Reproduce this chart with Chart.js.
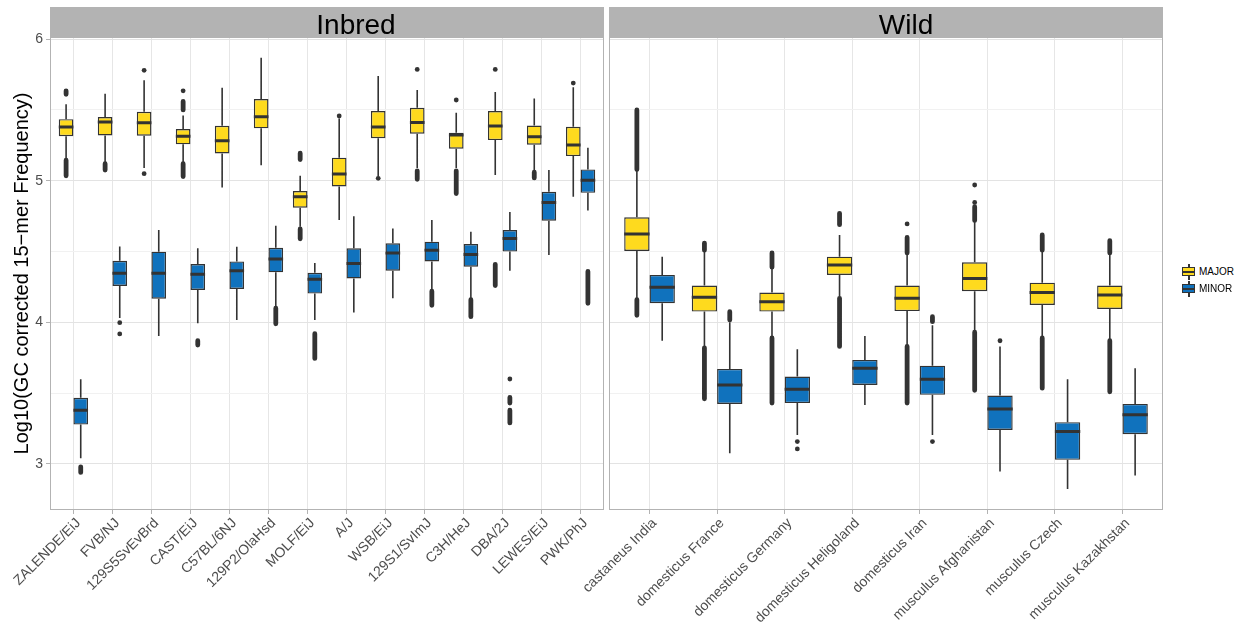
<!DOCTYPE html>
<html>
<head>
<meta charset="utf-8">
<script src="https://cdn.jsdelivr.net/npm/chart.js@4.4.1/dist/chart.umd.min.js"></script>
<style>
  body { margin: 0; background: #fff; width: 1245px; height: 643px; position: relative; overflow: hidden;
         font-family: "Liberation Sans", Arial, sans-serif; }
  .panel { position: absolute; top: 0; height: 643px; }
  .strip { position: absolute; top: 7px; height: 30px; background: #b3b3b3; }
  .strip span { position: absolute; top: 2px; font-size: 28px; line-height: 32px; color: #000;
                transform: translateX(-50%); white-space: nowrap; }
  #legend { position: absolute; left: 1182px; top: 264px; font-size: 10px; color: #000; }
  .item { position: relative; height: 17px; padding-left: 17px; line-height: 16px; }
  .key { position: absolute; left: 0; top: 0; width: 14px; height: 16px; }
  .key .wh { position: absolute; left: 6px; top: 0; width: 1.6px; height: 16px; background: #333; }
  .key .bx { position: absolute; left: 0; top: 3px; width: 11px; height: 7px; border: 1.5px solid #333; }
  .key .md { position: absolute; left: 1px; top: 7px; width: 12px; height: 2px; background: #333; }
</style>
</head>
<body>
<div class="panel" style="left:0;width:620px"><canvas id="inbred"></canvas></div>
<div class="panel" style="left:480px;width:700px"><canvas id="wild"></canvas></div>
<div class="strip" style="left:50px;width:554px"><span style="left:306px">Inbred</span></div>
<div class="strip" style="left:609px;width:554px"><span style="left:297px">Wild</span></div>
<div id="legend">
  <div class="item"><span class="key"><span class="wh"></span><span class="bx" style="background:#FEDA1E"></span><span class="md"></span></span>MAJOR</div>
  <div class="item"><span class="key"><span class="wh"></span><span class="bx" style="background:#1072BD"></span><span class="md"></span></span>MINOR</div>
</div>
<script>
"use strict";
// box stats per category: [lower whisker, q1, median, q3, upper whisker]
const inbredNames = ["ZALENDE/EiJ", "FVB/NJ", "129S5SvEvBrd", "CAST/EiJ", "C57BL/6NJ", "129P2/OlaHsd", "MOLF/EiJ",
  "A/J", "WSB/EiJ", "129S1/SvImJ", "C3H/HeJ", "DBA/2J", "LEWES/EiJ", "PWK/PhJ"];
const inbredMajor = [
  [5.16, 5.315, 5.38, 5.435, 5.54], [5.13, 5.32, 5.415, 5.45, 5.615], [5.09, 5.318, 5.41, 5.487, 5.71],
  [5.125, 5.257, 5.315, 5.365, 5.46], [4.953, 5.193, 5.282, 5.388, 5.656], [5.11, 5.37, 5.452, 5.577, 5.868],
  [4.675, 4.81, 4.887, 4.927, 5.035], [4.723, 4.96, 5.047, 5.163, 5.44], [5.03, 5.3, 5.38, 5.492, 5.739],
  [5.09, 5.332, 5.412, 5.515, 5.64], [5.09, 5.226, 5.323, 5.339, 5.48], [5.04, 5.287, 5.386, 5.492, 5.626],
  [5.07, 5.254, 5.31, 5.39, 5.58], [4.887, 5.174, 5.252, 5.381, 5.66]
];
const inbredMinor = [
  [3.04, 3.278, 3.38, 3.467, 3.598], [4.03, 4.257, 4.346, 4.435, 4.535], [3.904, 4.167, 4.346, 4.499, 4.652],
  [3.993, 4.229, 4.34, 4.412, 4.523], [4.017, 4.236, 4.365, 4.43, 4.534], [4.11, 4.353, 4.447, 4.527, 4.683],
  [4.017, 4.203, 4.304, 4.35, 4.42], [4.07, 4.31, 4.416, 4.523, 4.75], [4.17, 4.365, 4.49, 4.558, 4.662],
  [4.228, 4.43, 4.51, 4.57, 4.723], [4.17, 4.393, 4.48, 4.553, 4.64], [4.365, 4.5, 4.593, 4.652, 4.78],
  [4.475, 4.718, 4.847, 4.922, 5.075], [4.79, 4.915, 5.004, 5.08, 5.233]
];
// outliers: dense columns as [category, from, to], single points as [category, value]
const inbredMajorRuns = [[0, 5.61, 5.635], [0, 5.035, 5.145], [1, 5.075, 5.12], [3, 5.5, 5.56], [3, 5.03, 5.12],
  [6, 5.15, 5.195], [6, 4.59, 4.66], [9, 5.01, 5.07], [10, 4.91, 5.07], [11, 4.26, 4.41], [12, 5.02, 5.06]];
const inbredMajorDots = [[2, 5.78], [2, 5.05], [3, 5.635], [7, 5.457], [8, 5.017], [9, 5.786], [10, 5.57],
  [11, 5.786], [13, 5.69]];
const inbredMinorRuns = [[0, 2.94, 2.98], [3, 3.84, 3.87], [5, 3.99, 4.1], [6, 3.745, 3.92], [9, 4.12, 4.22],
  [10, 4.04, 4.16], [11, 3.43, 3.47], [11, 3.29, 3.38], [13, 4.135, 4.36]];
const inbredMinorDots = [[1, 3.998], [1, 3.918], [11, 3.6]];

const wildNames = ["castaneus India", "domesticus France", "domesticus Germany", "domesticus Heligoland",
  "domesticus Iran", "musculus Afghanistan", "musculus Czech", "musculus Kazakhstan"];
const wildMajor = [
  [4.17, 4.504, 4.624, 4.742, 5.07], [3.83, 4.076, 4.177, 4.26, 4.5], [3.895, 4.076, 4.146, 4.21, 4.385],
  [4.18, 4.335, 4.405, 4.464, 4.617], [3.84, 4.08, 4.17, 4.26, 4.48], [3.935, 4.22, 4.31, 4.424, 4.71],
  [3.9, 4.123, 4.21, 4.28, 4.5], [3.88, 4.095, 4.193, 4.26, 4.48]
];
const wildMinor = [
  [3.87, 4.135, 4.248, 4.335, 4.464], [3.075, 3.424, 3.558, 3.671, 4.0], [3.205, 3.43, 3.528, 3.617, 3.81],
  [3.417, 3.558, 3.676, 3.735, 3.904], [3.205, 3.488, 3.598, 3.694, 3.98], [2.946, 3.24, 3.389, 3.483, 3.83],
  [2.824, 3.029, 3.229, 3.295, 3.598], [2.918, 3.21, 3.347, 3.424, 3.676]
];
const wildMajorRuns = [[0, 5.08, 5.5], [0, 4.05, 4.16], [1, 4.51, 4.56], [1, 3.46, 3.82], [2, 4.39, 4.49],
  [2, 3.43, 3.89], [3, 4.69, 4.77], [3, 3.83, 4.17], [4, 4.49, 4.6], [4, 3.43, 3.83], [5, 4.72, 4.817],
  [5, 3.52, 3.93], [6, 4.51, 4.617], [6, 3.535, 3.89], [7, 4.49, 4.577], [7, 3.51, 3.87]];
const wildMajorDots = [[4, 4.695], [5, 4.847], [5, 4.97]];
const wildMinorRuns = [[1, 4.017, 4.075], [4, 4.005, 4.04]];
const wildMinorDots = [[2, 3.158], [2, 3.106], [4, 3.158], [5, 3.87]];

const yTicksMin = 2.675, yTicksMax = 6.015;
const yTitle = "Log10(GC corrected 15\u2212mer Frequency)";

const YELLOW = "#FEDA1E", BLUE = "#1072BD", INK = "#333333";
const DODGE = 0.1875;   // half of the 0.75 dodge width
const HALF = 0.1875;    // half box width
Chart.defaults.font.family = '"Liberation Sans", Arial, sans-serif';

function boxSet(label, stats, color) {
  return {
    type: "bar", label, order: 2,
    data: stats.map((s, i) => ({ x: i, y: [s[1], s[3]] })),
    backgroundColor: color, borderColor: INK, borderWidth: 1.4, borderSkipped: false,
    categoryPercentage: 0.75, barPercentage: 1.0
  };
}
function whiskerSet(stats, off) {
  const pts = [];
  stats.forEach((s, i) => {
    const x = i + off;
    pts.push({ x, y: s[3] }, { x, y: s[4] }, { x, y: null }, { x, y: s[0] }, { x, y: s[1] }, { x, y: null });
  });
  return { type: "line", data: pts, order: 3, borderColor: INK, borderWidth: 1.6, pointRadius: 0, spanGaps: false };
}
function medianSet(stats, off) {
  const pts = [];
  stats.forEach((s, i) => {
    pts.push({ x: i + off - HALF, y: s[2] }, { x: i + off + HALF, y: s[2] }, { x: i + off, y: null });
  });
  return { type: "line", data: pts, order: 1, borderColor: INK, borderWidth: 3, pointRadius: 0, spanGaps: false };
}
function runSet(runs, off) {
  const pts = [];
  runs.forEach((r) => pts.push({ x: r[0] + off, y: r[1] }, { x: r[0] + off, y: r[2] }, { x: r[0] + off, y: null }));
  return { type: "line", data: pts, order: 3, borderColor: INK, borderWidth: 4.8, borderCapStyle: "round",
    pointRadius: 0, spanGaps: false };
}
function dotSet(dots, off) {
  return { type: "scatter", data: dots.map((d) => ({ x: d[0] + off, y: d[1] })), order: 3,
    backgroundColor: INK, borderWidth: 0, pointRadius: 2.4 };
}

const isMajor = (ctx) => ctx.tick && Number.isInteger(ctx.tick.value);

const panelBorder = {
  id: "panelBorder",
  afterDatasetsDraw(chart) {
    const { ctx, chartArea: a } = chart;
    ctx.save();
    ctx.strokeStyle = "#b3b3b3";
    ctx.lineWidth = 1;
    ctx.strokeRect(a.left + 0.5, a.top + 0.5, a.width - 1, a.height - 1);
    ctx.restore();
  }
};

function panel(id, names, major, minor, majorRuns, minorRuns, majorDots, minorDots, left, padding) {
  new Chart(id, {
    type: "bar",
    data: {
      datasets: [
        boxSet("MAJOR", major, YELLOW), boxSet("MINOR", minor, BLUE),
        whiskerSet(major, -DODGE), whiskerSet(minor, DODGE),
        medianSet(major, -DODGE), medianSet(minor, DODGE),
        runSet(majorRuns, -DODGE), runSet(minorRuns, DODGE),
        dotSet(majorDots, -DODGE), dotSet(minorDots, DODGE)
      ]
    },
    options: {
      responsive: true, maintainAspectRatio: false, animation: false, events: [],
      layout: { padding },
      plugins: { legend: { display: false }, tooltip: { enabled: false } },
      scales: {
        x: {
          type: "linear", offset: false, min: -0.6, max: names.length - 0.4,
          grid: { offset: false, color: "#e6e6e6", tickLength: 4, tickColor: "#b3b3b3" },
          border: { display: false },
          ticks: {
            stepSize: 1, includeBounds: false, autoSkip: false, minRotation: 45, maxRotation: 45,
            color: "#4d4d4d", font: { size: 14 }, padding: 1, labelOffset: 5,
            callback: (v) => names[v] ?? ""
          },
          afterFit: (s) => { s.height = 133; }
        },
        y: {
          type: "linear", min: yTicksMin, max: yTicksMax, beginAtZero: false,
          grid: {
            color: (ctx) => (isMajor(ctx) ? "#e3e3e3" : "#f1f1f1"),
            tickColor: (ctx) => (isMajor(ctx) ? "#b3b3b3" : "rgba(0,0,0,0)"),
            tickLength: 4, drawTicks: left
          },
          border: { display: false },
          ticks: {
            display: left, stepSize: 0.5, includeBounds: false, color: "#4d4d4d", font: { size: 14 }, padding: 3,
            callback: (v) => (Number.isInteger(v) ? v : "")
          },
          title: { display: left, text: yTitle, color: "#000", font: { size: 20 }, padding: { top: 10, bottom: 0 } },
          afterFit: (s) => { s.width = left ? 50 : 0; }
        }
      }
    },
    plugins: [panelBorder]
  });
}

panel("inbred", inbredNames, inbredMajor, inbredMinor, inbredMajorRuns, inbredMinorRuns,
  inbredMajorDots, inbredMinorDots, true, { left: 0, right: 16, top: 37, bottom: 0 });
panel("wild", wildNames, wildMajor, wildMinor, wildMajorRuns, wildMinorRuns,
  wildMajorDots, wildMinorDots, false, { left: 129, right: 17, top: 37, bottom: 0 });
</script>
</body>
</html>
